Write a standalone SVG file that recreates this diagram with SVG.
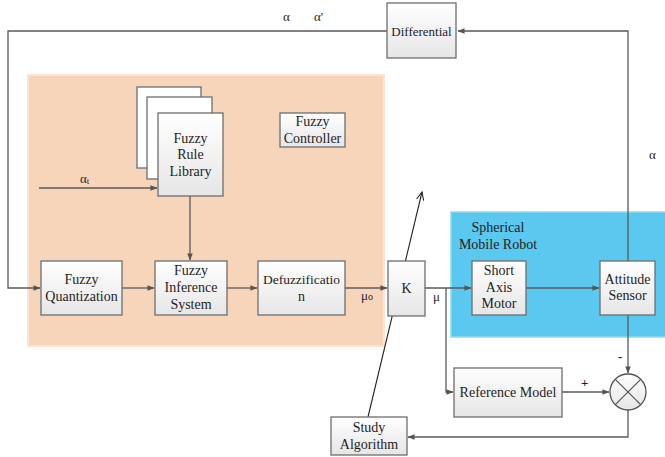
<svg xmlns="http://www.w3.org/2000/svg" width="665" height="457" viewBox="0 0 665 457">
  <defs>
    <linearGradient id="boxfill" x1="0" y1="0" x2="0" y2="1">
      <stop offset="0" stop-color="#ffffff"/>
      <stop offset="1" stop-color="#e6e6e6"/>
    </linearGradient>
    <marker id="arr" viewBox="0 0 8 8" refX="7.5" refY="4" markerWidth="7" markerHeight="7" markerUnits="userSpaceOnUse" orient="auto">
      <path d="M0,0.8 L8,4 L0,7.2 Z" fill="#555"/>
    </marker>
    <marker id="open" viewBox="0 0 10 10" refX="9" refY="5" markerWidth="9" markerHeight="9" markerUnits="userSpaceOnUse" orient="auto">
      <path d="M0,1 L9,5 L0,9" fill="none" stroke="#222" stroke-width="1.2"/>
    </marker>
  </defs>
  <style>
    .box { fill: url(#boxfill); stroke: #6e6e6e; stroke-width: 1.3; }
    .plain { fill: #ffffff; stroke: #6e6e6e; stroke-width: 1.3; }
    text { font-family: 'Liberation Serif', 'DejaVu Serif', serif; }
    .t { font-size: 14px; fill: #1e1e1e; text-anchor: middle; }
    .lbl { font-size: 13px; fill: #1e1e1e; }
    .wire { fill: none; stroke: #5a5a5a; stroke-width: 1.3; }
  </style>

  <!-- background regions -->
  <rect id="fuzzy-region" x="28" y="75" width="356" height="271" fill="#f6d5bb" stroke="#fbe4d4" stroke-width="2"/>
  <rect id="robot-region" x="451" y="212" width="216" height="125" fill="#5bc8ef" stroke="#8fd9f4" stroke-width="1.5"/>

  <!-- connectors -->
  <g id="connectors">
    <polyline class="wire" points="387,31 8,31 8,288 40,288" marker-end="url(#arr)"/>
    <polyline class="wire" points="628,261 628,31 458,31" marker-end="url(#arr)"/>
    <line class="wire" x1="39" y1="188" x2="157" y2="188" marker-end="url(#arr)"/>
    <line class="wire" x1="190" y1="196" x2="190" y2="260" marker-end="url(#arr)"/>
    <line class="wire" x1="122" y1="288" x2="154" y2="288" marker-end="url(#arr)"/>
    <line class="wire" x1="227" y1="288" x2="257" y2="288" marker-end="url(#arr)"/>
    <line class="wire" x1="345" y1="288" x2="387" y2="288" marker-end="url(#arr)"/>
    <line class="wire" x1="425" y1="288" x2="471" y2="288" marker-end="url(#arr)"/>
    <polyline class="wire" points="446,288 446,392 453,392" marker-end="url(#arr)"/>
    <line class="wire" x1="526" y1="288" x2="599" y2="288" marker-end="url(#arr)"/>
    <line class="wire" x1="628" y1="315" x2="628" y2="373" marker-end="url(#arr)"/>
    <line class="wire" x1="562" y1="392" x2="609" y2="392" marker-end="url(#arr)"/>
    <polyline class="wire" points="628,410 628,437 408,437" marker-end="url(#arr)"/>
    <line x1="368" y1="417" x2="422" y2="192" stroke="#222" stroke-width="1.1" marker-end="url(#open)"/>
  </g>

  <!-- signal labels -->
  <g id="labels">
    <text class="lbl" x="283" y="21">α</text>
    <text class="lbl" x="314" y="21">α'</text>
    <text class="lbl" x="80" y="183">α<tspan style="font-size:9px" dy="1">t</tspan></text>
    <text class="lbl" x="649" y="159">α</text>
    <text class="lbl" x="361" y="300">μ<tspan style="font-size:10px">o</tspan></text>
    <text class="lbl" x="433" y="301">μ</text>
    <text class="lbl" x="581" y="387" font-weight="bold">+</text>
    <text class="lbl" x="618" y="361" font-weight="bold">-</text>
  </g>

  <g id="differential">
    <rect class="box" x="387" y="3" width="69" height="55"/>
    <text class="t" x="421.5" y="36" style="font-size:13px">Differential</text>
  </g>

  <g id="fuzzy-rule-library">
    <rect class="plain" x="137" y="87" width="64" height="81"/>
    <rect class="plain" x="147" y="97" width="65" height="82"/>
    <rect class="box" x="158" y="113" width="65" height="83"/>
    <text class="t" x="190.5" y="143">Fuzzy</text>
    <text class="t" x="190.5" y="159">Rule</text>
    <text class="t" x="190.5" y="176">Library</text>
  </g>

  <g id="fuzzy-controller">
    <rect class="box" x="280" y="113" width="65" height="34"/>
    <text class="t" x="312.5" y="126">Fuzzy</text>
    <text class="t" x="312.5" y="143">Controller</text>
  </g>

  <g id="fuzzy-quantization">
    <rect class="box" x="41" y="261" width="81" height="54"/>
    <text class="t" x="81.5" y="284">Fuzzy</text>
    <text class="t" x="81.5" y="301">Quantization</text>
  </g>

  <g id="fuzzy-inference-system">
    <rect class="box" x="155" y="261" width="72" height="54"/>
    <text class="t" x="191" y="275">Fuzzy</text>
    <text class="t" x="191" y="292">Inference</text>
    <text class="t" x="191" y="309">System</text>
  </g>

  <g id="defuzzification">
    <rect class="box" x="258" y="261" width="87" height="54"/>
    <text class="t" x="301.5" y="284" style="font-size:13.5px">Defuzzificatio</text>
    <text class="t" x="301.5" y="301">n</text>
  </g>

  <g id="k">
    <rect class="box" x="388" y="261" width="37" height="55"/>
    <text class="t" x="406.5" y="293">K</text>
  </g>

  <g id="spherical-mobile-robot">
    <text class="t" x="498" y="232" fill="#1e2a33">Spherical</text>
    <text class="t" x="498" y="249" fill="#1e2a33">Mobile Robot</text>
  </g>

  <g id="short-axis-motor">
    <rect class="box" x="472" y="261" width="54" height="54"/>
    <text class="t" x="499" y="275">Short</text>
    <text class="t" x="499" y="292">Axis</text>
    <text class="t" x="499" y="308">Motor</text>
  </g>

  <g id="attitude-sensor">
    <rect class="box" x="600" y="261" width="55" height="54"/>
    <text class="t" x="627.5" y="284">Attitude</text>
    <text class="t" x="627.5" y="300">Sensor</text>
  </g>

  <g id="reference-model">
    <rect class="box" x="454" y="368" width="108" height="49"/>
    <text class="t" x="508" y="397">Reference Model</text>
  </g>

  <g id="comparator">
    <circle cx="628" cy="392" r="18" fill="url(#boxfill)" stroke="#555" stroke-width="1.3"/>
    <line x1="615.3" y1="379.3" x2="640.7" y2="404.7" stroke="#555" stroke-width="1.2"/>
    <line x1="640.7" y1="379.3" x2="615.3" y2="404.7" stroke="#555" stroke-width="1.2"/>
  </g>

  <g id="study-algorithm">
    <rect class="box" x="331" y="417" width="76" height="38"/>
    <text class="t" x="369" y="432">Study</text>
    <text class="t" x="369" y="449">Algorithm</text>
  </g>
</svg>
